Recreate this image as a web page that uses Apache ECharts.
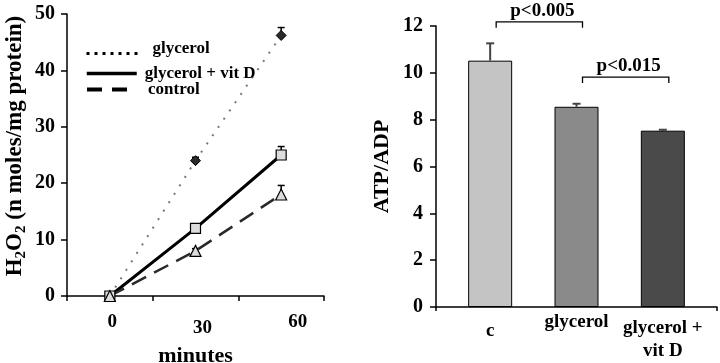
<!DOCTYPE html>
<html>
<head>
<meta charset="utf-8">
<script src="https://cdn.jsdelivr.net/npm/echarts@6/dist/echarts.min.js"></script>
<style>
  html, body { margin: 0; padding: 0; background: #fff; }
  #chart { width: 720px; height: 363px; }
</style>
</head>
<body>
<div id="chart"></div>
<script>
// left panel: H2O2 over time
const timeLabels = ['0', '30', '60']
const glycerol = [0, 24, 46.2]
const glycerolVitD = [0, 12, 25]
const control = [0, 8, 18]
const glycerolErr = [0, 0.6, 1.4]
const glycerolVitDErr = [0, 0, 1.5]
const controlErr = [0, 0.4, 1.6]
const h2o2Ticks = { min: 0, max: 50, interval: 10 }

// right panel: ATP/ADP
const groups = ['c', 'glycerol', 'glycerol +\nvit D']
const ratio = [10.52, 8.55, 7.53]
const ratioErr = [0.74, 0.13, 0.04]
const ratioTicks = { min: 0, max: 12, interval: 2 }
const pLabels = ['p<0.005', 'p<0.015']
const pBrackets = [[0, 1, 12.18], [1, 2, 9.82]]

const FONT = '"Liberation Serif", "Times New Roman", serif'
const barColors = ['#c4c4c4', '#8a8a8a', '#4a4a4a']

let myChart = echarts.init(document.getElementById('chart'))

// error bars (upward only)
function errRender (capHalf, color, width) {
  return function (params, api) {
    let e = api.value(2)
    if (!e) return { type: 'group', children: [] }
    let p = api.coord([api.value(0), api.value(1)])
    let t = api.coord([api.value(0), api.value(1) + e])
    return {
      type: 'group',
      children: [
        { type: 'line', shape: { x1: p[0], y1: p[1], x2: t[0], y2: t[1] }, style: { stroke: color, lineWidth: width } },
        { type: 'line', shape: { x1: t[0] - capHalf, y1: t[1], x2: t[0] + capHalf, y2: t[1] }, style: { stroke: color, lineWidth: width } }
      ]
    }
  }
}

let leftErr = []
;[[glycerol, glycerolErr], [glycerolVitD, glycerolVitDErr], [control, controlErr]].forEach(pair => {
  pair[0].forEach((v, i) => leftErr.push([i, v, pair[1][i]]))
})
let rightErr = ratio.map((v, i) => [i, v, ratioErr[i]])

let legendBase = {
  orient: 'vertical',
  left: 80,
  itemHeight: 14,
  selectedMode: false,
  itemStyle: { opacity: 0 }
}
let legendText = { fontFamily: FONT, fontWeight: 'bold', fontSize: 17, color: '#000' }

myChart.setOption({
  animation: false,
  backgroundColor: '#fff',
  grid: [
    { left: 67, width: 257, top: 14, height: 282, outerBoundsMode: 'none' },
    { left: 436, width: 281, top: 26, height: 281, outerBoundsMode: 'none' },
    { left: 447, width: 259, top: 26, height: 281, outerBoundsMode: 'none' }
  ],
  legend: [
    Object.assign({}, legendBase, {
      data: ['glycerol'], top: 35, itemWidth: 55,
      lineStyle: { color: '#000', width: 3, type: [3, 5] },
      formatter: n => '{r|' + n + '}',
      textStyle: Object.assign({}, legendText, {
        rich: { r: Object.assign({}, legendText, { padding: [0, 0, 10, 6] }) }
      })
    }),
    Object.assign({}, legendBase, {
      data: ['glycerol + vit D'], top: 60, itemWidth: 50,
      lineStyle: { color: '#000', width: 3.5 },
      textStyle: Object.assign({}, legendText, { padding: [0, 0, 0, 3] })
    }),
    Object.assign({}, legendBase, {
      data: ['control'], top: 76, itemWidth: 40,
      lineStyle: { color: '#000', width: 4, type: [15, 10] },
      textStyle: Object.assign({}, legendText, { padding: [0, 0, 0, 16] })
    })
  ],
  xAxis: [
    {
      gridIndex: 0,
      type: 'category',
      data: timeLabels,
      name: 'minutes',
      nameLocation: 'middle',
      nameGap: 49,
      nameMoveOverlap: false,
      nameTextStyle: { fontFamily: FONT, fontWeight: 'bold', fontSize: 22, color: '#000' },
      axisLine: { lineStyle: { color: '#000', width: 1.5 } },
      axisTick: { show: true, length: 5, lineStyle: { color: '#000', width: 1.5 } },
      axisLabel: {
        interval: 0,
        margin: 17,
        formatter: (v, i) => '{t' + i + '|' + v + '}',
        rich: {
          t0: { fontFamily: FONT, fontWeight: 'bold', fontSize: 19, color: '#000', padding: [0, 0, 0, 5] },
          t1: { fontFamily: FONT, fontWeight: 'bold', fontSize: 19, color: '#000', padding: [6, 0, 0, 14] },
          t2: { fontFamily: FONT, fontWeight: 'bold', fontSize: 19, color: '#000', padding: [0, 0, 0, 33] }
        }
      },
      splitLine: { show: false }
    },
    {
      gridIndex: 1,
      type: 'value',
      min: 0,
      max: 1,
      interval: 1,
      axisLine: { show: true, lineStyle: { color: '#000', width: 1.5 } },
      axisTick: { show: true, length: 4, lineStyle: { color: '#000', width: 1.5 } },
      axisLabel: { show: false },
      splitLine: { show: false }
    },
    {
      gridIndex: 2,
      type: 'category',
      data: groups,
      axisLine: { show: false },
      axisTick: { show: false },
      axisLabel: {
        interval: 0,
        margin: 6,
        formatter: (v, i) => v.split('\n').map((s, j) => '{g' + i + j + '|' + s + '}').join('\n'),
        rich: {
          g00: { fontFamily: FONT, fontWeight: 'bold', fontSize: 19, color: '#000', padding: [9, 0, 0, 0] },
          g10: { fontFamily: FONT, fontWeight: 'bold', fontSize: 19, color: '#000' },
          g20: { fontFamily: FONT, fontWeight: 'bold', fontSize: 19, color: '#000', padding: [6, 0, 0, 0] },
          g21: { fontFamily: FONT, fontWeight: 'bold', fontSize: 19, color: '#000', lineHeight: 27 }
        }
      },
      splitLine: { show: false }
    }
  ],
  yAxis: [
    {
      gridIndex: 0,
      type: 'value',
      min: h2o2Ticks.min,
      max: h2o2Ticks.max,
      interval: h2o2Ticks.interval,
      name: '{h|H}{s|2}{a|O}{s|2}{a| (n moles/mg protein)}',
      nameLocation: 'middle',
      nameGap: 38,
      nameMoveOverlap: false,
      nameTextStyle: {
        rich: {
          h: { fontFamily: FONT, fontWeight: 'bold', fontSize: 23, color: '#000', verticalAlign: 'top', padding: [0, 0, 0, 18] },
          a: { fontFamily: FONT, fontWeight: 'bold', fontSize: 23, color: '#000', verticalAlign: 'top' },
          s: { fontFamily: FONT, fontWeight: 'bold', fontSize: 15, color: '#000', verticalAlign: 'top', padding: [10, 0, 0, 0] }
        }
      },
      axisLine: { show: true, lineStyle: { color: '#000', width: 1.5 } },
      axisTick: { show: true, length: 6, lineStyle: { color: '#000', width: 1.5 } },
      axisLabel: { margin: 12, fontFamily: FONT, fontWeight: 'bold', fontSize: 20, color: '#000' },
      splitLine: { show: false }
    },
    {
      gridIndex: 1,
      type: 'value',
      min: ratioTicks.min,
      max: ratioTicks.max,
      interval: ratioTicks.interval,
      name: 'ATP/ADP',
      nameLocation: 'middle',
      nameGap: 43,
      nameMoveOverlap: false,
      nameTextStyle: { fontFamily: FONT, fontWeight: 'bold', fontSize: 22, color: '#000' },
      axisLine: { show: true, lineStyle: { color: '#000', width: 1.5 } },
      axisTick: { show: true, length: 6, lineStyle: { color: '#000', width: 1.5 } },
      axisLabel: { margin: 13, fontFamily: FONT, fontWeight: 'bold', fontSize: 20, color: '#000' },
      splitLine: { show: false }
    },
    {
      gridIndex: 2,
      type: 'value',
      min: ratioTicks.min,
      max: ratioTicks.max,
      show: false
    }
  ],
  series: [
    {
      name: 'glycerol',
      type: 'line',
      xAxisIndex: 0,
      yAxisIndex: 0,
      data: glycerol,
      symbol: 'diamond',
      symbolSize: 10,
      itemStyle: { color: '#2a2a2a', borderColor: '#000', borderWidth: 1 },
      lineStyle: { color: '#777', width: 2, type: [2, 8] },
      z: 3
    },
    {
      name: 'glycerol + vit D',
      type: 'line',
      xAxisIndex: 0,
      yAxisIndex: 0,
      data: glycerolVitD,
      symbol: 'rect',
      symbolSize: 10,
      itemStyle: { color: '#dcdcdc', borderColor: '#000', borderWidth: 1.2 },
      lineStyle: { color: '#000', width: 3 },
      z: 3
    },
    {
      name: 'control',
      type: 'line',
      xAxisIndex: 0,
      yAxisIndex: 0,
      data: control,
      symbol: 'triangle',
      symbolSize: 11,
      itemStyle: { color: '#dcdcdc', borderColor: '#000', borderWidth: 1.2 },
      lineStyle: { color: '#2a2a2a', width: 2.5, type: [16, 9] },
      z: 3
    },
    {
      type: 'custom',
      xAxisIndex: 0,
      yAxisIndex: 0,
      data: leftErr,
      encode: { x: 0, y: 1 },
      renderItem: errRender(3.5, '#000', 1.5),
      z: 1
    },
    {
      type: 'bar',
      xAxisIndex: 2,
      yAxisIndex: 2,
      barWidth: 44,
      data: ratio.map((v, i) => ({ value: v, itemStyle: { color: barColors[i] } })),
      itemStyle: { borderColor: '#000', borderWidth: 1 },
      z: 2
    },
    {
      type: 'custom',
      xAxisIndex: 2,
      yAxisIndex: 2,
      data: rightErr,
      encode: { x: 0, y: 1 },
      renderItem: errRender(4, '#444', 2),
      z: 3
    },
    {
      type: 'custom',
      xAxisIndex: 2,
      yAxisIndex: 2,
      data: pBrackets,
      encode: { x: [0, 1], y: 2 },
      renderItem: function (params, api) {
        let a = api.coord([api.value(0), api.value(2)])
        let b = api.coord([api.value(1), api.value(2)])
        let x1 = a[0] + 6
        let x2 = b[0] + 6
        let y = a[1]
        return {
          type: 'group',
          children: [
            { type: 'polyline', shape: { points: [[x1, y + 6], [x1, y], [x2, y], [x2, y + 6]] }, style: { stroke: '#000', lineWidth: 1.3, fill: null } },
            { type: 'text', x: (x1 + x2) / 2 + 3, y: y - 1, style: { text: pLabels[params.dataIndex], font: 'bold 19px ' + FONT, fill: '#000', align: 'center', verticalAlign: 'bottom' } }
          ]
        }
      },
      z: 3
    }
  ]
})
</script>
</body>
</html>
